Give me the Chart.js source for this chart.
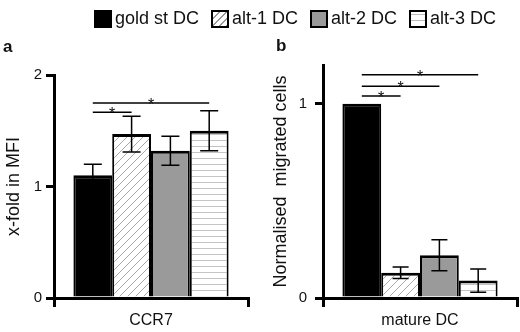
<!DOCTYPE html>
<html>
<head>
<meta charset="utf-8">
<script src="https://cdn.jsdelivr.net/npm/chart.js@4.4.1/dist/chart.umd.min.js"></script>
<style>
  body { margin: 0; background: #fff; font-family: "Liberation Sans", Arial, sans-serif; }
  #wrap { position: relative; width: 520px; height: 332px; overflow: hidden; background: #fff; }
  canvas { position: absolute; top: 0; }
  #chartA { left: 0; }
  #chartB { left: 262px; }
  .panel { position: absolute; font-weight: bold; font-size: 17px; color: #111; }
  #legend { position: absolute; left: 94px; top: 8px; display: flex; align-items: center; font-size: 18px; color: #111; }
  .item { display: flex; align-items: center; margin-right: 12px; }
  .sw { width: 14px; height: 14px; border: 2.5px solid #000; margin-right: 3px; }
</style>
</head>
<body>
<div id="wrap">
  <canvas id="chartA" width="262" height="332"></canvas>
  <canvas id="chartB" width="258" height="332"></canvas>
  <div id="legend"></div>
  <div class="panel" style="left:3px; top:37px;">a</div>
  <div class="panel" style="left:276px; top:36px;">b</div>
</div>
<script>
// series + data
const seriesNames = ["gold st DC", "alt-1 DC", "alt-2 DC", "alt-3 DC"];

const categoryA = ["CCR7"];
const ccr7Mean = [1.10, 1.47, 1.32, 1.50];
const ccr7Err = [0.10, 0.16, 0.13, 0.18];
const ticksA = [0, 1, 2];
const sigA = [[0, 1, 1.665], [0, 3, 1.75]]; // [from, to, height]

const categoryB = ["mature DC"];
const migMean = [1.00, 0.13, 0.22, 0.09];
const migErr = [0.00, 0.03, 0.08, 0.06];
const ticksB = [0, 1];
const sigB = [[0, 1, 1.04], [0, 2, 1.09], [0, 3, 1.15]];

Chart.defaults.font.family = '"Liberation Sans", Arial, sans-serif';
Chart.defaults.color = "#111";

// fill patterns
function hatchPattern() {
  const c = document.createElement("canvas");
  c.width = 8; c.height = 8;
  const g = c.getContext("2d");
  g.fillStyle = "#fff"; g.fillRect(0, 0, 8, 8);
  g.strokeStyle = "#a8a8a8"; g.lineWidth = 1;
  g.beginPath();
  g.moveTo(0, 8); g.lineTo(8, 0);
  g.moveTo(-1, 1); g.lineTo(1, -1);
  g.moveTo(7, 9); g.lineTo(9, 7);
  g.stroke();
  return g.createPattern(c, "repeat");
}
function stripePattern() {
  const c = document.createElement("canvas");
  c.width = 6; c.height = 6;
  const g = c.getContext("2d");
  g.fillStyle = "#fff"; g.fillRect(0, 0, 6, 6);
  g.fillStyle = "#c4c4c4"; g.fillRect(0, 2, 6, 1);
  return g.createPattern(c, "repeat");
}
const fills = ["#000", hatchPattern(), "#9a9a9a", stripePattern()];
const legendFills = [
  "#000",
  "repeating-linear-gradient(135deg, #fff 0 4px, #999 4px 5px)",
  "#9a9a9a",
  "repeating-linear-gradient(0deg, #fff 0 5px, #bbb 5px 6px)"
];

// html legend
const legend = document.getElementById("legend");
seriesNames.forEach((name, i) => {
  const item = document.createElement("div");
  item.className = "item";
  const sw = document.createElement("div");
  sw.className = "sw";
  sw.style.background = legendFills[i];
  const txt = document.createElement("span");
  txt.textContent = name;
  item.appendChild(sw); item.appendChild(txt);
  legend.appendChild(item);
});

// error bars + significance brackets
const extrasPlugin = {
  id: "extras",
  afterDatasetsDraw(chart) {
    const ctx = chart.ctx;
    const y = chart.scales.y;
    const cfg = chart.options.plugins.extras;
    ctx.save();
    ctx.strokeStyle = "#000";
    ctx.lineWidth = 1.5;
    chart.data.datasets.forEach((ds, i) => {
      const bar = chart.getDatasetMeta(i).data[0];
      const e = ds.err[0];
      if (!e) return;
      const yt = y.getPixelForValue(ds.data[0] + e);
      const yb = y.getPixelForValue(ds.data[0] - e);
      const w = cfg.cap;
      ctx.beginPath();
      ctx.moveTo(bar.x, yt); ctx.lineTo(bar.x, yb);
      ctx.moveTo(bar.x - w, yt); ctx.lineTo(bar.x + w, yt);
      ctx.moveTo(bar.x - w, yb); ctx.lineTo(bar.x + w, yb);
      ctx.stroke();
    });
    ctx.fillStyle = "#111";
    ctx.font = '16px "Liberation Sans", Arial, sans-serif';
    ctx.textAlign = "center";
    ctx.textBaseline = "alphabetic";
    cfg.sig.forEach(([a, b, h]) => {
      const xa = chart.getDatasetMeta(a).data[0].x;
      const xb = chart.getDatasetMeta(b).data[0].x;
      const yy = y.getPixelForValue(h);
      ctx.beginPath();
      ctx.moveTo(xa, yy); ctx.lineTo(xb, yy);
      ctx.stroke();
      ctx.fillText("*", (xa + xb) / 2, yy + 7);
    });
    ctx.restore();
  }
};

function makeChart(id, labels, means, errs, sig, yMax, yTicks, yTitle, o) {
  return new Chart(document.getElementById(id), {
    type: "bar",
    data: {
      labels: labels,
      datasets: seriesNames.map((name, i) => ({
        label: name,
        data: [means[i]],
        err: [errs[i]],
        backgroundColor: fills[i],
        borderColor: "#000",
        borderWidth: { top: 3, left: 2, right: 2, bottom: 0 },
        categoryPercentage: 0.8,
        barPercentage: 1.0
      }))
    },
    options: {
      responsive: false,
      animation: false,
      layout: { padding: { top: o.top, right: o.right, left: 0, bottom: 0 } },
      plugins: {
        legend: { display: false },
        tooltip: { enabled: false },
        extras: { sig: sig, cap: o.cap }
      },
      scales: {
        x: {
          afterFit: s => { s.height = 34; },
          border: { color: "#000", width: 3 },
          grid: { drawOnChartArea: false, drawTicks: true, tickLength: 9, color: "#000", lineWidth: 3 },
          ticks: { color: "#111", font: { size: 16 }, padding: 4 }
        },
        y: {
          min: 0,
          max: yMax,
          afterBuildTicks: s => { s.ticks = yTicks.map(v => ({ value: v })); },
          afterFit: s => { s.width = o.yWidth; },
          border: { color: "#000", width: 3 },
          grid: { drawOnChartArea: false, drawTicks: true, tickLength: 8, color: "#000", lineWidth: 3 },
          ticks: { color: "#111", font: { size: 15 }, padding: o.tickPad },
          title: { display: true, text: yTitle, color: "#111", font: { size: 18 }, padding: { top: o.titlePad, bottom: 0 } }
        }
      }
    },
    plugins: [extrasPlugin]
  });
}

makeChart("chartA", categoryA, ccr7Mean, ccr7Err, sigA, 2, ticksA, "x-fold in MFI",
  { top: 75, right: 14, yWidth: 54, tickPad: 4, titlePad: 3, cap: 9 });
makeChart("chartB", categoryB, migMean, migErr, sigB, 1.2, ticksB, "Normalised  migrated cells",
  { top: 65, right: 3, yWidth: 61, tickPad: 8, titlePad: 8, cap: 8 });
</script>
</body>
</html>
